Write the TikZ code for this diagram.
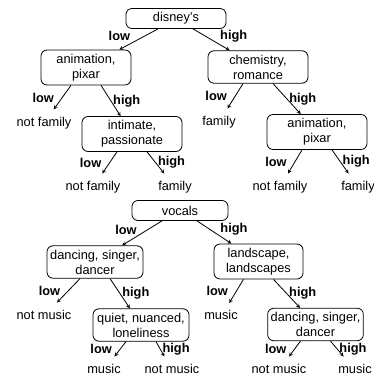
\documentclass[tikz,border=0pt]{standalone}
\usepackage{fontspec}
\setmainfont{Liberation Sans}
\usetikzlibrary{arrows, positioning}

\begin{document}
\begin{tikzpicture}[>=stealth, line width=0.8pt, every node/.style={font=\fontsize{12.8}{15}\selectfont}]
    % Styles
    \tikzstyle{split} = [rectangle, draw, rounded corners=6pt, align=center, inner xsep=3pt, inner ysep=4pt, minimum width=96pt, minimum height=20pt]
    \tikzstyle{leaf} = [text height=9.5pt, text depth=2.7pt, inner xsep=2pt, inner ysep=7pt]
    \tikzstyle{line} = [draw, ->]
    \tikzstyle{lbl} = [font=\fontsize{12.8}{15}\selectfont\bfseries, inner sep=1pt]

    \useasboundingbox (0,0) rectangle (373pt,-379pt);

    % Nodes: disney tree
    \node [split, minimum width=100pt] (disney) at (176pt,-18.5pt) {disney’s};
    \node [split, minimum width=90pt, below of=disney, node distance=49pt, xshift=-90pt] (anim) {animation,\\pixar};
    \node [split, minimum width=100pt, below of=disney, node distance=48.5pt, xshift=82pt] (chem) {chemistry,\\romance};
    \node [leaf, below of=anim, node distance=55.5pt, xshift=-42pt] (nfamA) {not family};
    \node [split, minimum width=100pt, below of=anim, node distance=66.5pt, xshift=46pt] (intim) {intimate,\\passionate};
    \node [leaf, below of=intim, node distance=53pt, xshift=-39pt] (nfamB) {not family};
    \node [leaf, below of=intim, node distance=53pt, xshift=43pt] (famA) {family};
    \node [leaf, below of=chem, node distance=55pt, xshift=-39pt] (famB) {family};
    \node [split, minimum width=100pt, below of=chem, node distance=65pt, xshift=59pt] (animB) {animation,\\pixar};
    \node [leaf, below of=animB, node distance=55pt, xshift=-37pt] (nfamC) {not family};
    \node [leaf, below of=animB, node distance=55pt, xshift=41pt] (famC) {family};

    % Nodes: vocals tree
    \node [split, below of=disney, node distance=192pt, xshift=4pt] (vocals) {vocals};
    \node [split, below of=vocals, node distance=51.5pt, xshift=-85pt] (danceA) {dancing, singer,\\dancer};
    \node [split, minimum width=89pt, below of=vocals, node distance=51pt, xshift=78.5pt] (land) {landscape,\\landscapes};
    \node [leaf, below of=danceA, node distance=54pt, xshift=-51pt] (nmusA) {not music};
    \node [split, below of=danceA, node distance=63pt, xshift=46pt] (quiet) {quiet, nuanced,\\loneliness};
    \node [leaf, below of=quiet, node distance=45pt, xshift=-37pt] (musA) {music};
    \node [leaf, below of=quiet, node distance=45pt, xshift=31pt] (nmusB) {not music};
    \node [leaf, below of=land, node distance=55pt, xshift=-37.5pt] (musB) {music};
    \node [split, minimum width=95pt, below of=land, node distance=63pt, xshift=57pt] (danceB) {dancing, singer,\\dancer};
    \node [leaf, below of=danceB, node distance=45.5pt, xshift=-36.5pt] (nmusC) {not music};
    \node [leaf, below of=danceB, node distance=45.5pt, xshift=39.5pt] (musC) {music};

    % Paths: disney tree
    \path [line] ([xshift=-18pt]disney.south) -- node[lbl, pos=0.35, left=13pt] {low} (anim);
    \path [line] ([xshift=17pt]disney.south) -- node[lbl, pos=0.35, right=13pt] {high} (chem);
    \path [line] ([xshift=-15pt]anim.south) -- node[lbl, midway, left=7pt] {low} (nfamA);
    \path [line] ([xshift=15pt]anim.south) -- node[lbl, midway, right=1pt] {high} (intim);
    \path [line] ([xshift=-15pt]intim.south) -- node[lbl, midway, left=7pt] {low} (nfamB);
    \path [line] ([xshift=15pt]intim.south) -- node[lbl, midway, right=1pt] {high} (famA);
    \path [line] ([xshift=-15pt]chem.south) -- node[lbl, midway, left=7pt] {low} (famB);
    \path [line] ([xshift=15pt]chem.south) -- node[lbl, midway, right=1pt] {high} (animB);
    \path [line] ([xshift=-15pt]animB.south) -- node[lbl, midway, left=7pt] {low} (nfamC);
    \path [line] ([xshift=15pt]animB.south) -- node[lbl, midway, right=1pt] {high} (famC);

    % Paths: vocals tree
    \path [line] ([xshift=-18pt]vocals.south) -- node[lbl, pos=0.35, left=10pt] {low} (danceA);
    \path [line] ([xshift=17pt]vocals.south) -- node[lbl, pos=0.35, right=10pt] {high} (land);
    \path [line] ([xshift=-15pt]danceA.south) -- node[lbl, midway, left=7pt] {low} (nmusA);
    \path [line] ([xshift=15pt]danceA.south) -- node[lbl, midway, right=1pt] {high} (quiet);
    \path [line] ([xshift=-15pt]quiet.south) -- node[lbl, midway, left=7pt] {low} (musA);
    \path [line] ([xshift=15pt]quiet.south) -- node[lbl, midway, right=1pt] {high} (nmusB);
    \path [line] ([xshift=-15pt]land.south) -- node[lbl, midway, left=7pt] {low} (musB);
    \path [line] ([xshift=15pt]land.south) -- node[lbl, midway, right=1pt] {high} (danceB);
    \path [line] ([xshift=-15pt]danceB.south) -- node[lbl, midway, left=7pt] {low} (nmusC);
    \path [line] ([xshift=15pt]danceB.south) -- node[lbl, midway, right=1pt] {high} (musC);
\end{tikzpicture}
\end{document}
